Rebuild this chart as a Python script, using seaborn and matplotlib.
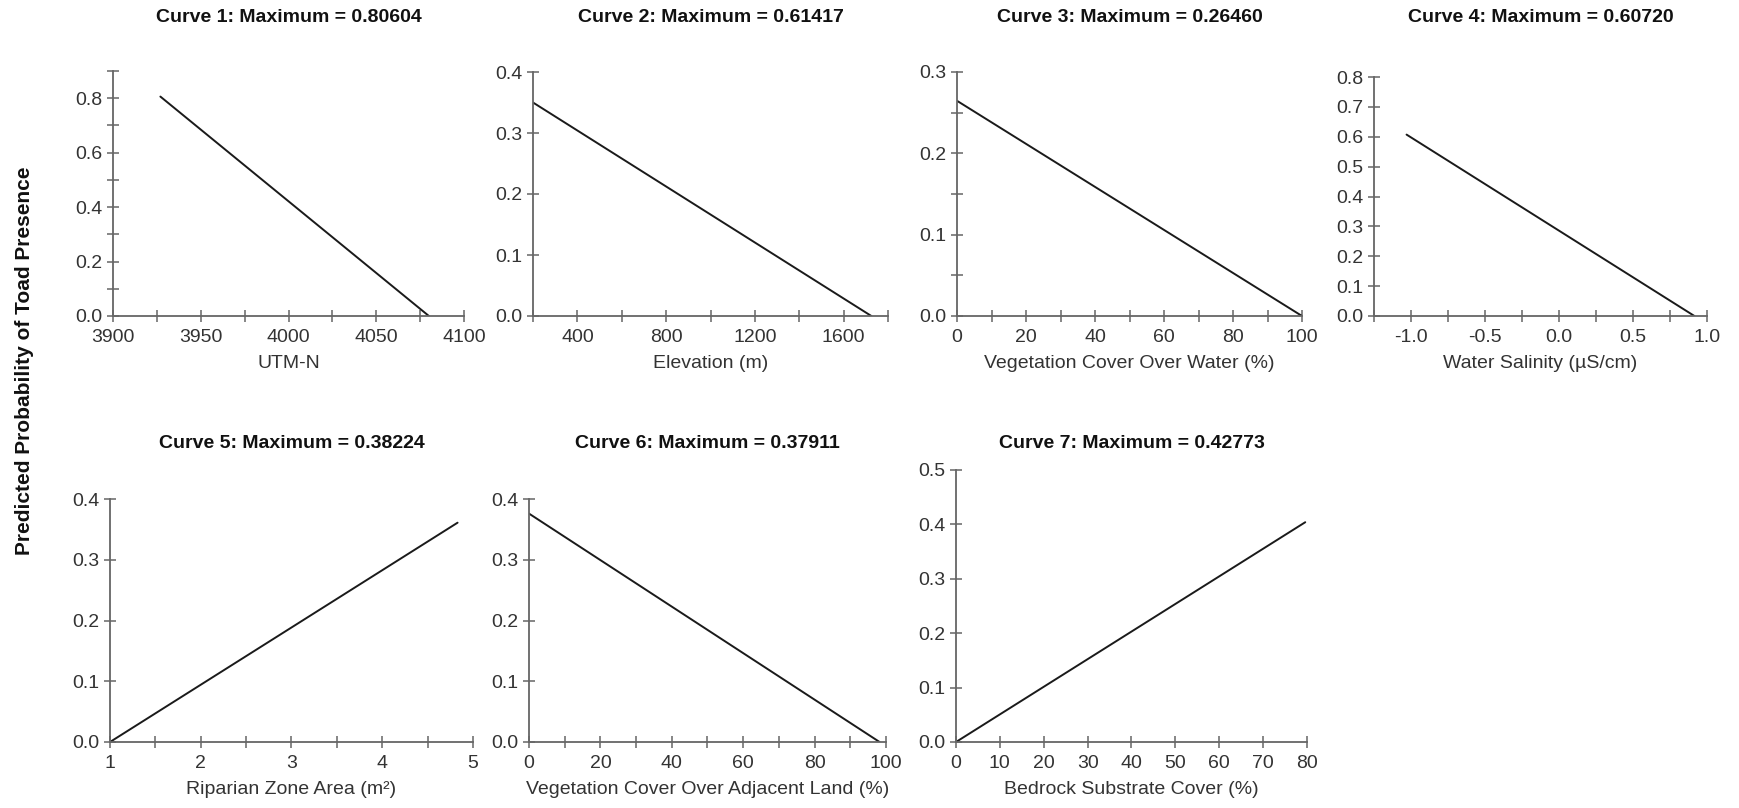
import matplotlib
matplotlib.use("Agg")
import matplotlib.pyplot as plt
from matplotlib.ticker import MultipleLocator, FormatStrFormatter
import seaborn as sns
import pandas as pd

# Response curves: predicted probability of toad presence vs. each predictor
curve_max = ["0.80604", "0.61417", "0.26460", "0.60720", "0.38224", "0.37911", "0.42773"]
x_titles = ["UTM-N", "Elevation (m)", "Vegetation Cover Over Water (%)",
            "Water Salinity (\u00b5S/cm)", "Riparian Zone Area (m\u00b2)",
            "Vegetation Cover Over Adjacent Land (%)", "Bedrock Substrate Cover (%)"]

curve1_x = [3927, 4080]
curve1_y = [0.80604, 0.0]
curve2_x = [200, 1725]
curve2_y = [0.350, 0.0]
curve3_x = [0, 100]
curve3_y = [0.26460, 0.0]
curve4_x = [-1.03, 0.915]
curve4_y = [0.60720, 0.0]
curve5_x = [1.0, 4.83]
curve5_y = [0.0, 0.361]
curve6_x = [0, 98.2]
curve6_y = [0.376, 0.0]
curve7_x = [0, 79.6]
curve7_y = [0.0, 0.404]

curves_x = [curve1_x, curve2_x, curve3_x, curve4_x, curve5_x, curve6_x, curve7_x]
curves_y = [curve1_y, curve2_y, curve3_y, curve4_y, curve5_y, curve6_y, curve7_y]

sns.set_theme(style="ticks")
plt.rcParams["font.family"] = ["Liberation Sans", "DejaVu Sans"]

W, H = 1740, 808
fig = plt.figure(figsize=(W / 100, H / 100), dpi=100)
fig.patch.set_facecolor("white")

# axes boxes in pixels: left, right, top, bottom
boxes = [
    (113, 464, 71, 316),
    (533, 888, 72, 316),
    (957, 1302, 72, 316),
    (1374, 1707, 77, 316),
    (110, 473, 499, 742),
    (529, 886, 499, 742),
    (956, 1307, 470, 742),
]
xlims = [(3900, 4100), (200, 1800), (0, 100), (-1.25, 1.0), (1, 5), (0, 100), (0, 80)]
ylims = [(0, 0.9), (0, 0.4), (0, 0.3), (0, 0.8), (0, 0.4), (0, 0.4), (0, 0.5)]
x_major = [50, 400, 20, 0.5, 1, 20, 10]
x_minor = [25, 200, 10, 0.25, 0.5, 10, None]
y_major = [0.2, 0.1, 0.1, 0.1, 0.1, 0.1, 0.1]
y_minor = [0.1, None, 0.05, None, None, None, None]
title_y = [17, 17, 17, 17, 443, 443, 443]

spine_col = "#666666"
text_col = "#333333"

for i in range(7):
    l, r, t, b = boxes[i]
    ax = fig.add_axes([l / W, 1 - b / H, (r - l) / W, (b - t) / H])
    df = pd.DataFrame({"x": curves_x[i], "y": curves_y[i]})
    sns.lineplot(data=df, x="x", y="y", ax=ax, color="#1a1a1a", linewidth=1.4)
    ax.set_xlim(*xlims[i])
    ax.set_ylim(*ylims[i])
    ax.xaxis.set_major_locator(MultipleLocator(x_major[i]))
    if x_minor[i]:
        ax.xaxis.set_minor_locator(MultipleLocator(x_minor[i]))
    ax.yaxis.set_major_locator(MultipleLocator(y_major[i]))
    if y_minor[i]:
        ax.yaxis.set_minor_locator(MultipleLocator(y_minor[i]))
    ax.yaxis.set_major_formatter(FormatStrFormatter("%.1f"))
    if i == 3:
        ax.xaxis.set_major_formatter(FormatStrFormatter("%.1f"))
    for side in ("top", "right"):
        ax.spines[side].set_visible(False)
    for side in ("left", "bottom"):
        ax.spines[side].set_color(spine_col)
        ax.spines[side].set_linewidth(1.3)
    ax.tick_params(which="both", direction="inout", length=9, width=1.1,
                   color=spine_col, labelsize=14, labelcolor=text_col)
    ax.tick_params(axis="x", which="both", pad=5)
    ax.tick_params(axis="y", which="both", pad=3)
    ax.set_xlabel(x_titles[i], fontsize=14, color=text_col, labelpad=6)
    ax.set_ylabel("")
    fig.text((l + r) / 2 / W, 1 - title_y[i] / H,
             f"Curve {i + 1}: Maximum = {curve_max[i]}",
             ha="center", va="center", fontsize=14, fontweight="bold", color="#111111")

fig.text(25 / W, 1 - 361 / H, "Predicted Probability of Toad Presence", rotation=90,
         ha="center", va="center", fontsize=15, fontweight="bold", color="#111111")

fig.savefig("out.png", dpi=100, facecolor="white")
